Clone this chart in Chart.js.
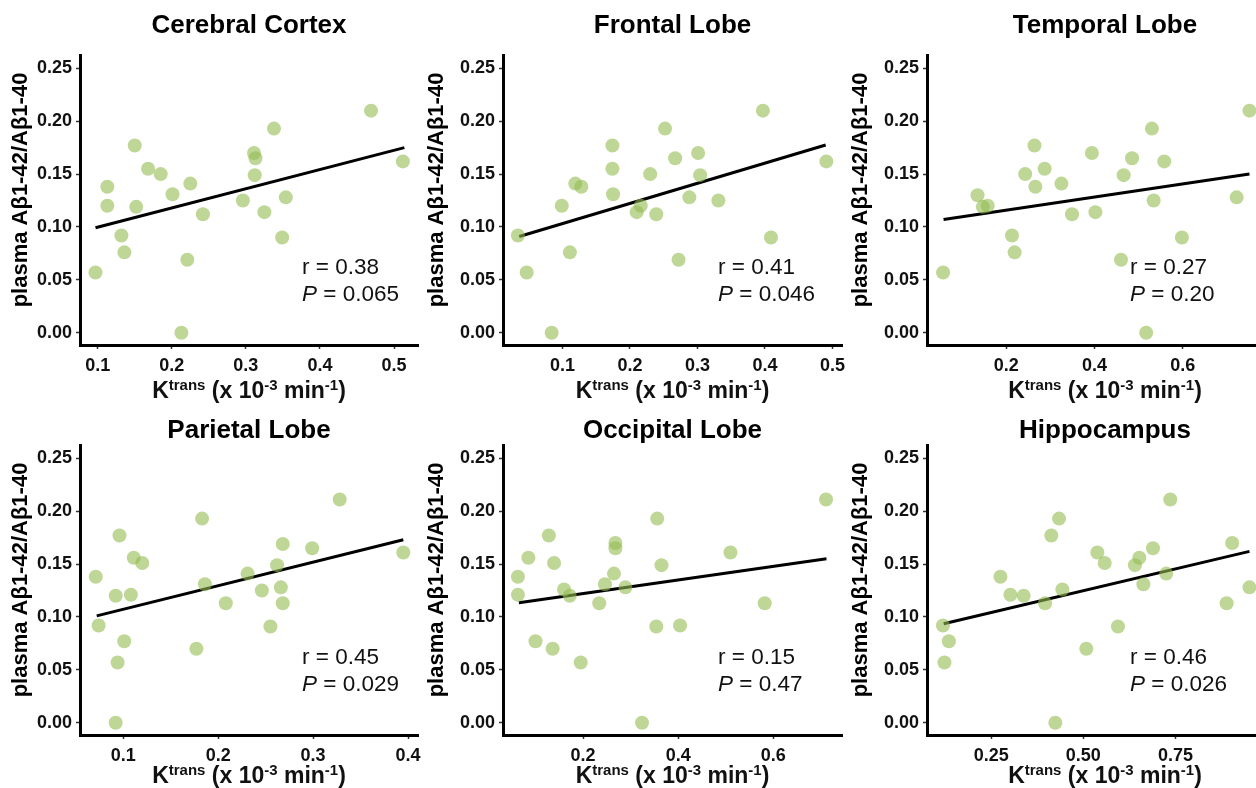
<!DOCTYPE html>
<html>
<head>
<meta charset="utf-8">
<script src="https://cdn.jsdelivr.net/npm/chart.js@4.4.1/dist/chart.umd.min.js"></script>
<style>
  html, body { margin: 0; background: #fff; overflow: hidden; width: 1256px; height: 788px; position: relative; }
  .panel { position: absolute; }
</style>
</head>
<body>
<script>
/* ── DATA ─────────────────────────────────────────────── */
const titles = ['Cerebral Cortex','Frontal Lobe','Temporal Lobe','Parietal Lobe','Occipital Lobe','Hippocampus'];

const cortexK = [0.097,0.113,0.113,0.132,0.136,0.150,0.152,0.168,0.185,0.201,0.213,0.221,0.225,0.242,0.296,0.311,0.313,0.312,0.325,0.338,0.349,0.354,0.469,0.512];
const cortexR = [0.057,0.138,0.120,0.092,0.076,0.177,0.119,0.155,0.150,0.131,0.000,0.069,0.141,0.112,0.125,0.170,0.165,0.149,0.114,0.193,0.090,0.128,0.210,0.162];

const frontalK = [0.034,0.047,0.084,0.099,0.111,0.119,0.128,0.174,0.174,0.175,0.210,0.216,0.230,0.239,0.252,0.267,0.272,0.288,0.301,0.304,0.331,0.397,0.409,0.491];
const frontalR = [0.092,0.057,0.000,0.120,0.076,0.141,0.138,0.177,0.155,0.131,0.114,0.120,0.150,0.112,0.193,0.165,0.069,0.128,0.170,0.149,0.125,0.210,0.090,0.162];

const temporalK = [0.057,0.135,0.147,0.158,0.213,0.219,0.243,0.264,0.266,0.287,0.325,0.349,0.394,0.402,0.460,0.466,0.485,0.517,0.530,0.534,0.558,0.598,0.722,0.751];
const temporalR = [0.057,0.130,0.119,0.120,0.092,0.076,0.150,0.177,0.138,0.155,0.141,0.112,0.170,0.114,0.069,0.149,0.165,0.000,0.193,0.125,0.162,0.090,0.128,0.210];

const parietalK = [0.071,0.074,0.092,0.092,0.094,0.096,0.101,0.108,0.111,0.120,0.177,0.183,0.186,0.208,0.231,0.246,0.255,0.262,0.266,0.268,0.268,0.299,0.328,0.395];
const parietalR = [0.138,0.092,0.000,0.120,0.057,0.177,0.077,0.121,0.156,0.151,0.070,0.193,0.131,0.113,0.141,0.125,0.091,0.149,0.128,0.113,0.169,0.165,0.211,0.161];

const occipitalK = [0.063,0.063,0.085,0.100,0.128,0.136,0.139,0.160,0.172,0.195,0.234,0.246,0.265,0.268,0.268,0.289,0.324,0.354,0.356,0.365,0.404,0.510,0.582,0.711];
const occipitalR = [0.138,0.121,0.156,0.077,0.177,0.070,0.151,0.126,0.120,0.057,0.113,0.131,0.141,0.170,0.165,0.128,0.000,0.091,0.193,0.149,0.092,0.161,0.113,0.211];

const hippoK = [0.119,0.123,0.135,0.275,0.302,0.338,0.396,0.413,0.424,0.434,0.443,0.508,0.538,0.558,0.594,0.640,0.652,0.663,0.689,0.725,0.736,0.889,0.904,0.951];
const hippoR = [0.092,0.057,0.077,0.138,0.121,0.120,0.113,0.177,0.000,0.193,0.126,0.070,0.161,0.151,0.091,0.149,0.156,0.131,0.165,0.141,0.211,0.113,0.170,0.128];

// fitted line end points (K, ratio)
const fitK = [[0.097,0.514],[0.036,0.490],[0.058,0.751],[0.072,0.395],[0.065,0.712],[0.121,0.951]];
const fitR = [[0.0993,0.175],[0.091,0.1775],[0.107,0.150],[0.101,0.173],[0.1135,0.155],[0.0936,0.162]];

const rText = ['0.38','0.41','0.27','0.45','0.15','0.46'];
const pText = ['0.065','0.046','0.20','0.029','0.47','0.026'];

const xTicks = [[0.1,0.2,0.3,0.4,0.5],[0.1,0.2,0.3,0.4,0.5],[0.2,0.4,0.6],[0.1,0.2,0.3,0.4],[0.2,0.4,0.6],[0.25,0.5,0.75]];
const yTicks = [0,0.05,0.10,0.15,0.20,0.25];
const xRange = [[0.0761,0.5324],[0.0119,0.5142],[0.0205,0.827],[0.0544,0.4105],[0.0316,0.7446],[0.0756,1.042]];
const yRange = [-0.0116,0.2626];

const seriesK = [cortexK, frontalK, temporalK, parietalK, occipitalK, hippoK];
const seriesR = [cortexR, frontalR, temporalR, parietalR, occipitalR, hippoR];

/* ── LAYOUT ───────────────────────────────────────────── */
const COLS = [
  { left: 0,   width: 432, yW: 80, yTitleX: 21, noteDx: 222 },
  { left: 420, width: 436, yW: 83, yTitleX: 17, noteDx: 215 },
  { left: 836, width: 461, yW: 91, yTitleX: 25, noteDx: 203 }
];
const ROWS = [
  { top: 0,   height: 410, tTop: 13, tBot: 16, xH: 65, xGap: 53 },
  { top: 394, height: 394, tTop: 24, tBot: 1,  xH: 53, xGap: 48 }
];

const FONT = '"Liberation Sans", Arial, sans-serif';
const DOT = 'rgba(147,187,80,0.6)';

/* ── TEXT PLUGIN (stats, axis titles) ─────────────────── */
const panelText = {
  id: 'panelText',
  afterDraw(chart, args, o) {
    const { ctx, chartArea: a } = chart;
    ctx.save();
    ctx.fillStyle = '#111';
    ctx.textBaseline = 'alphabetic';
    ctx.textAlign = 'left';

    // r / P annotation
    const x0 = a.left + o.dx;
    ctx.font = `22.5px ${FONT}`;
    ctx.fillText('r = ' + o.r, x0, a.bottom - 71);
    ctx.font = `italic 22.5px ${FONT}`;
    ctx.fillText('P', x0, a.bottom - 44);
    const pw = ctx.measureText('P').width;
    ctx.font = `22.5px ${FONT}`;
    ctx.fillText(' = ' + o.p, x0 + pw, a.bottom - 44);

    // x axis title: K^trans (x 10^-3 min^-1)
    const parts = [['K', false], ['trans', true], [' (x 10', false], ['-3', true], [' min', false], ['-1', true], [')', false]];
    const big = `bold 23px ${FONT}`, small = `bold 15px ${FONT}`;
    let total = 0;
    parts.forEach(([t, sup]) => { ctx.font = sup ? small : big; total += ctx.measureText(t).width; });
    let x = (a.left + a.right) / 2 - total / 2;
    const base = a.bottom + o.gap;
    parts.forEach(([t, sup]) => {
      ctx.font = sup ? small : big;
      ctx.fillText(t, x, sup ? base - 8 : base);
      x += ctx.measureText(t).width;
    });

    // y axis title
    ctx.translate(o.yx, (a.top + a.bottom) / 2 - 10);
    ctx.rotate(-Math.PI / 2);
    ctx.font = `bold 22px ${FONT}`;
    ctx.fillStyle = '#000';
    ctx.textAlign = 'center';
    ctx.textBaseline = 'middle';
    ctx.fillText('plasma Aβ1-42/Aβ1-40', 0, 0);
    ctx.restore();
  }
};

/* ── BUILD PANELS ─────────────────────────────────────── */
titles.forEach((title, i) => {
  const col = COLS[i % 3], row = ROWS[Math.floor(i / 3)];
  const div = document.createElement('div');
  div.className = 'panel';
  div.style.left = col.left + 'px';
  div.style.top = row.top + 'px';
  const cv = document.createElement('canvas');
  cv.width = col.width; cv.height = row.height;
  cv.style.width = col.width + 'px'; cv.style.height = row.height + 'px';
  div.appendChild(cv);
  document.body.appendChild(div);

  const points = seriesK[i].map((k, j) => ({ x: k, y: seriesR[i][j] }));
  const fit = fitK[i].map((k, j) => ({ x: k, y: fitR[i][j] }));

  new Chart(cv, {
    type: 'scatter',
    data: {
      datasets: [
        { data: points, backgroundColor: DOT, borderWidth: 0, pointRadius: 7, pointHoverRadius: 7 },
        { type: 'line', data: fit, borderColor: '#000', borderWidth: 3, pointRadius: 0, fill: false, tension: 0 }
      ]
    },
    options: {
      responsive: false,
      animation: false,
      events: [],
      layout: { padding: { left: 0, right: 14, top: 0, bottom: 0 } },
      plugins: {
        legend: { display: false },
        tooltip: { enabled: false },
        title: {
          display: true, text: title, color: '#000', fullSize: false,
          font: { family: FONT, size: 26, weight: 'bold', lineHeight: 1 },
          padding: { top: row.tTop, bottom: row.tBot }
        },
        panelText: { dx: col.noteDx, r: rText[i], p: pText[i], gap: row.xGap, yx: col.yTitleX }
      },
      scales: {
        x: {
          type: 'linear', min: xRange[i][0], max: xRange[i][1],
          afterBuildTicks: s => { s.ticks = xTicks[i].map(v => ({ value: v })); },
          afterFit: s => { s.height = row.xH; },
          grid: { drawOnChartArea: false, drawTicks: true, tickLength: 4, tickColor: '#333', tickWidth: 1.5 },
          border: { display: true, color: '#000', width: 3 },
          ticks: {
            color: '#111', padding: 6, maxRotation: 0,
            font: { family: FONT, size: 18, weight: 'bold' },
            callback: v => i === 5 ? v.toFixed(2) : String(+v.toFixed(2))
          }
        },
        y: {
          type: 'linear', min: yRange[0], max: yRange[1],
          afterBuildTicks: s => { s.ticks = yTicks.map(v => ({ value: v })); },
          afterFit: s => { s.width = col.yW; },
          grid: { drawOnChartArea: false, drawTicks: true, tickLength: 4, tickColor: '#333', tickWidth: 1.5 },
          border: { display: true, color: '#000', width: 3 },
          ticks: {
            color: '#111', padding: 4,
            font: { family: FONT, size: 18, weight: 'bold' },
            callback: v => v.toFixed(2)
          }
        }
      }
    },
    plugins: [panelText]
  });
});
</script>
</body>
</html>
